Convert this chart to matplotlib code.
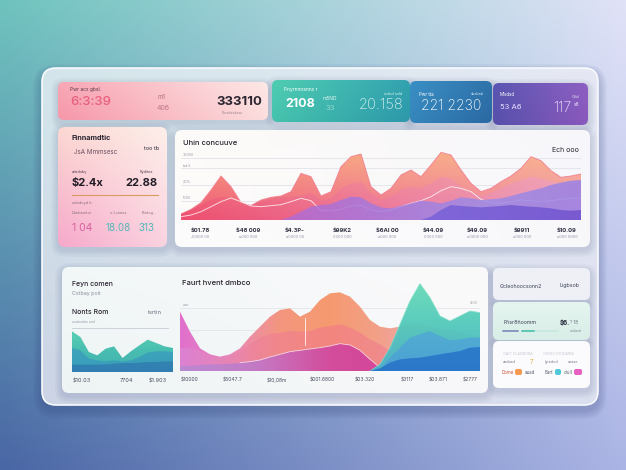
import numpy as np
import matplotlib
matplotlib.use('Agg')
import matplotlib.pyplot as plt
from matplotlib.patches import FancyBboxPatch
from matplotlib.colors import to_rgb

plt.rcParams['font.family'] = ['Inter', 'DejaVu Sans']

W, H = 626, 470

# ---------------- data ----------------
top_peaks = [18, 32, 52, 90, 132, 100, 53, 43, 60, 68, 72, 85, 140, 130, 72, 85, 160, 190, 198, 100,
             75, 95, 135, 150, 130, 165, 203, 195, 150, 110, 85, 95, 115, 132, 155, 190, 178, 148, 128, 132, 138]
top_mid = [18, 30, 45, 60, 70, 65, 50, 45, 55, 62, 68, 70, 72, 80, 60, 65, 95, 110, 115, 80,
           60, 70, 90, 100, 95, 110, 130, 125, 100, 85, 70, 80, 95, 110, 120, 130, 125, 115, 110, 115, 118]
top_line = [10, 15, 25, 40, 55, 66, 55, 42, 40, 43, 46, 55, 65, 58, 28, 28, 32, 42, 44, 30,
            25, 30, 40, 50, 58, 70, 88, 100, 95, 85, 62, 52, 50, 55, 60, 58, 55, 58, 62, 65, 65]
top_purple = [0, 0, 0, 0, 0, 0, 0, 0, 0, 0, 0, 10, 25, 40, 45, 48, 60, 70, 68, 50,
              38, 35, 42, 50, 58, 55, 50, 58, 68, 65, 60, 62, 65, 72, 80, 88, 95, 105, 112, 118, 120]
top_deep = [0] * 25 + [10, 30, 45, 42, 40, 38, 40, 42, 45, 42, 40, 38, 35, 30, 28, 30]
top_grid = [187, 155, 105, 57]
top_grid_labels = ['30000', 'tsd.5', '20%', '1000']
top_labels = ['$01.78', '$48 009', '$4.3P-', '$99K2', '$6AI 00', '$44.09', '$49.09', '$9911', '$10.09']
top_sublabels = ['J0000 00', 'u000 000', 'a0000 00', '0000 000', 'a000 000', '0000 000',
                 'u0000 000', 'u000 000', 'u000 0000']

bot_top = [178, 118, 68, 50, 43, 50, 68, 103, 133, 163, 183, 188, 163, 178, 213, 233, 236, 223, 193, 153,
           133, 128, 133, 143, 143, 133, 128, 123, 118, 108, 103]
bot_mid = [70, 70, 60, 45, 40, 45, 60, 80, 100, 110, 115, 120, 118, 120, 130, 135, 140, 130, 115, 95,
           80, 60, 40, 20, 0, 0, 0, 0, 0, 0, 0]
bot_magenta = [15, 15, 18, 20, 20, 22, 25, 28, 33, 42, 50, 58, 62, 66, 70, 75, 82, 78, 62, 35,
               10, 0, 0, 0, 0, 0, 0, 0, 0, 0, 0]
bot_teal = [0] * 19 + [0, 20, 70, 140, 210, 262, 220, 165, 150, 165, 180, 175]
bot_teal_mid = [0] * 20 + [5, 40, 70, 100, 110, 120, 105, 92, 95, 100, 100]
bot_blue = [0] * 20 + [8, 25, 35, 38, 40, 45, 50, 55, 60, 70, 72]
bot_grid = [190, 123]
bot_labels = ['$10000', '$5047.7', '$10,08m', '$001.6800', '$03.320', '$3117', '$03.871', '$2777']

sm_teal = [122, 105, 60, 50, 70, 77, 42, 62, 80, 97, 87, 77, 72]
sm_blue = [72, 65, 40, 35, 32, 35, 32, 35, 45, 58, 62, 62, 60]
sm_deep = [22, 22, 22, 22, 23, 25, 27, 27, 28, 30, 30, 32, 32]
sm_labels = ['$10.03', '7704', '$1.903']

# ---------------- helpers ----------------
def rgb(c):
    return np.array(to_rgb(c))


def bilinear(tl, tr, bl, br, n=64, m=64):
    t = np.linspace(0, 1, m)[None, :, None]
    s = np.linspace(0, 1, n)[:, None, None]
    top = rgb(tl) * (1 - t) + rgb(tr) * t
    bot = rgb(bl) * (1 - t) + rgb(br) * t
    return np.clip(top * (1 - s) + bot * s, 0, 1)


def stops_interp(stops, n):
    cols = np.array([rgb(c) for c in stops])
    p = np.linspace(0, 1, len(stops))
    q = np.linspace(0, 1, n)
    return np.stack([np.interp(q, p, cols[:, k]) for k in range(3)], axis=-1)


def hgrad(stops, m=128):
    row = stops_interp(stops, m)
    return np.repeat(row[None, :, :], 2, axis=0)


def vgrad(stops, n=128):
    col = stops_interp(stops, n)
    return np.repeat(col[:, None, :], 2, axis=1)


fig = plt.figure(figsize=(W / 100, H / 100), dpi=100)
bg = fig.add_axes([0, 0, 1, 1])
bg.set_xlim(0, W)
bg.set_ylim(H, 0)
bg.set_autoscale_on(False)
bg.axis('off')

bg.imshow(bilinear('#6fc3be', '#e0e2f7', '#4a67a5', '#abb5e5'), extent=(0, W, H, 0),
          aspect='auto', interpolation='bilinear', zorder=0)


def shadow(x, y, w, h, r, dy=3, alpha=0.035, layers=4, z=1):
    for k in range(layers):
        p = 1.5 + 1.8 * k
        bg.add_patch(FancyBboxPatch((x - p, y - p + dy), w + 2 * p, h + 2 * p,
                                    boxstyle=f"round,pad=0,rounding_size={r + p}",
                                    fc='#2a3a70', ec='none', alpha=alpha, zorder=z))


def card(x, y, w, h, r, fill, alpha=1.0, ec='none', lw=0, z=3, sh=True, sh_alpha=0.035):
    if sh:
        shadow(x, y, w, h, r, alpha=sh_alpha, z=z - 0.5)
    if isinstance(fill, str):
        p = FancyBboxPatch((x, y), w, h, boxstyle=f"round,pad=0,rounding_size={r}",
                           fc=fill, ec=ec, lw=lw, alpha=alpha, zorder=z)
        bg.add_patch(p)
    else:
        p = FancyBboxPatch((x, y), w, h, boxstyle=f"round,pad=0,rounding_size={r}",
                           fc='none', ec=ec, lw=lw, zorder=z + 0.1)
        bg.add_patch(p)
        im = bg.imshow(fill, extent=(x, x + w, y + h, y), aspect='auto',
                       interpolation='bilinear', alpha=alpha, zorder=z)
        im.set_clip_path(p)
    return p


def T(x, y, s, size, color, weight='normal', ha='left', va='center', alpha=1.0):
    bg.text(x, y, s, fontsize=size, color=color, fontweight=weight, ha=ha, va=va,
            alpha=alpha, zorder=8)


def chart_axes(x0, y0, x1, y1):
    a = fig.add_axes([x0 / W, 1 - y1 / H, (x1 - x0) / W, (y1 - y0) / H])
    a.set_facecolor('none')
    a.axis('off')
    return a


def grad_fill(ax, x, y, img, alpha=1.0, z=2, lower=None):
    x = np.asarray(x, float)
    y = np.asarray(y, float)
    lo = np.zeros_like(y) if lower is None else np.asarray(lower, float)
    poly = ax.fill_between(x, lo, y, facecolor='none', edgecolor='none', zorder=z)
    y0, y1 = ax.get_ylim()
    im = ax.imshow(img, extent=(x[0], x[-1], y0, y1), aspect='auto', origin='upper',
                   interpolation='bilinear', alpha=alpha, zorder=z)
    im.set_clip_path(poly.get_paths()[0], transform=ax.transData)
    return poly


# ---------------- main panel ----------------
shadow(42, 68, 556, 337, 14, dy=5, alpha=0.05, layers=5, z=1)
card(42, 68, 556, 337, 14, bilinear('#e2f0f3', '#edeff8', '#dce1ee', '#e5e8f4'), alpha=0.9,
     ec='#f8fafd', lw=1.2, z=2, sh=False)

# ---------------- top KPI cards ----------------
card(58, 82, 210, 38, 6, bilinear('#f8a8b6', '#fde8e6', '#f697aa', '#fcdcdc'))
T(70, 89, 'Pwr acx gbsl.', 3.5, '#5a3a48')
T(70, 102, '6:3:39', 9.5, '#e8607e', weight='medium')
T(157, 97, 'm1', 4.5, '#b07080')
T(157, 108, '406', 5, '#c07888')
T(216, 102, '333110', 9.5, '#2b2630', weight='bold')
T(222, 113, 'Pmsdasdasa', 2.5, '#a08890')

card(272, 80, 138, 42, 6, bilinear('#4fcdb2', '#33a3b0', '#45c2ad', '#2d98aa'))
T(284, 90, 'Pnyrnnnsnnx r', 3.5, 'white')
T(285, 104, '2108', 9, 'white', weight='bold')
T(323, 99, 'm5ND', 3.5, '#e0f6f2')
T(325, 108, '33', 5.5, '#8fd8cc')
T(402, 94, 'sdsd sdd', 3, '#d0f0ee', ha='right')
T(403, 105, '20.158', 10.5, '#d8f2f2', weight='light', ha='right')

card(410, 81, 82, 42, 6, bilinear('#3a8fc4', '#2f74ab', '#3585bb', '#2b69a3'))
T(419, 94, 'Pwr tta', 3.2, 'white')
T(484, 94, 'sbsbsb', 2.8, '#cfe0f0', ha='right')
T(421, 106, '221 2230', 10, 'white', weight='light')

card(493, 83, 95, 42, 6, bilinear('#5b56b2', '#8d5fc2', '#5650aa', '#8a58bc'))
T(500, 95, 'Mlsdsd', 3.2, 'white')
T(580, 97, 'Ctbl', 3, '#e2dcf2', ha='right')
T(500, 107, '53 A6', 5.5, '#e8e0ff')
T(553, 108, '117', 10, '#ece2fc', weight='light')
T(574, 104, 's8', 3.5, '#ece2fc')

# ---------------- left middle card ----------------
card(58, 127, 109, 120, 7, bilinear('#fcd8d2', '#fdefea', '#f6a9cb', '#fbd3e0'))
T(72, 138, 'Finnamdtic', 5.2, '#2a2530', weight='bold')
T(74, 152, 'JsA Mmmsesc', 4.5, '#6a5060')
T(144, 148, 'too tb', 4, '#2a2530')
T(72, 172, 'adsdsby', 2.8, '#5a4550')
T(140, 172, 'Rydites', 2.8, '#5a4550')
T(72, 183, '$2.4x', 8, '#231e28', weight='bold')
T(125, 183, '22.88', 8, '#231e28', weight='bold')
bg.plot([72, 158], [195, 195], color='#d99c5c', lw=0.8, zorder=8)
T(72, 203, 'adodoyd b', 2.8, '#8a7080')
T(72, 213, 'Datatsertor', 2.8, '#8a7080')
T(110, 213, 'o Lciwos', 2.8, '#8a7080')
T(142, 213, 'Betog ..', 2.8, '#8a7080')
T(72, 228, '1 04', 7.5, '#d860a0')
T(105, 228, '18.08', 7, '#52b8b8')
T(138, 228, '313', 7, '#52b8b8')

# ---------------- top chart card ----------------
card(175, 130, 415, 117, 7, bilinear('#fdfbf8', '#f7f6fa', '#fdfcfc', '#f8f8fb'))
T(183, 143, 'Uhin concuuve', 5.5, '#2a2530', weight='medium')
T(579, 150, 'Ech ooo', 5, '#2a2530', ha='right')
for xx, s1, s2 in zip([200, 248, 295, 342, 387, 433, 477, 522, 567], top_labels, top_sublabels):
    T(xx, 230, s1, 4.2, '#2e3040', weight='bold', ha='center')
    T(xx, 237, s2, 2.8, '#8a8fa0', ha='center')

ax1 = chart_axes(181, 150, 581, 220)
tx = np.arange(len(top_peaks))
ax1.set_xlim(0, tx[-1])
ax1.set_ylim(0, 210)
ax1.set_autoscale_on(False)
for g, lab in zip(top_grid, top_grid_labels):
    ax1.axhline(g, color='#e4e2ea', lw=0.6, zorder=0)
    ax1.text(0.2, g + 5, lab, fontsize=2.6, color='#9a9aa8', zorder=0)
grad_fill(ax1, tx, top_peaks, bilinear('#f7a07c', '#f9b690', '#ee5474', '#f090b0'), z=2)
ax1.plot(tx, top_peaks, color='#f07a8c', lw=0.7, alpha=0.8, zorder=2.1)
grad_fill(ax1, tx, top_mid, bilinear('#f27088', '#f4a6c6', '#ee4a6c', '#e2a2da'), alpha=0.55, z=3)
ax1.plot(tx, top_line, color='white', lw=0.7, alpha=0.75, zorder=3.5)
grad_fill(ax1, tx, top_purple, hgrad(['#c268cc', '#b46ad2', '#a47ade', '#9c8ce8', '#9a82e4']), alpha=0.85, z=4)
grad_fill(ax1, tx, top_deep, hgrad(['#7e72e4', '#7462dc', '#6a4ccc']), alpha=0.75, z=5)

# ---------------- bottom large card ----------------
card(62, 267, 426, 126, 7, bilinear('#f2f7f8', '#fbfafb', '#eef4f4', '#f8f8fa'))
T(72, 284, 'Feyn comen', 5, '#2a2530', weight='medium')
T(72, 294, 'Cstbay poit', 3.8, '#8a8fa0')
T(72, 312, 'Nonts Rom', 5, '#2a2530', weight='medium')
T(148, 312, 'tsrtin', 4.2, '#6a6f80')
T(72, 322, 'asdasdas asd', 2.6, '#a0a5b0')
bg.plot([72, 168], [328, 328], color='#c8ccd6', lw=0.6, zorder=8)
for xx, s in zip([82, 126, 158], sm_labels):
    T(xx, 381, s, 4, '#4a4f60', ha='center')
T(182, 283, 'Faurt hvent dmbco', 5.5, '#2a2530', weight='medium')
for xx, s in zip([190, 233, 277, 322, 365, 407, 438, 470], bot_labels):
    T(xx, 380, s, 3.6, '#4a4f60', ha='center')

# small teal chart
ax3 = chart_axes(72, 330, 173, 372)
sx = np.arange(len(sm_teal))
ax3.set_xlim(0, sx[-1])
ax3.set_ylim(0, 126)
ax3.set_autoscale_on(False)
grad_fill(ax3, sx, sm_teal, vgrad(['#5cd3b4', '#48bdb0', '#42b0b0']), z=2)
grad_fill(ax3, sx, sm_blue, vgrad(['#3ea8c0', '#3898bc']), alpha=0.85, z=3)
grad_fill(ax3, sx, sm_deep, vgrad(['#3488b4', '#307ab0']), alpha=0.85, z=4)

# big bottom chart
ax2 = chart_axes(180, 283, 480, 371)
bx = np.arange(len(bot_top))
ax2.set_xlim(0, bx[-1])
ax2.set_ylim(0, 264)
ax2.set_autoscale_on(False)
for g in bot_grid:
    ax2.axhline(g, color='#e4e4ec', lw=0.6, zorder=0)
ax2.text(0.3, bot_grid[0] + 6, 'aaa', fontsize=2.6, color='#9a9aa8')
ax2.text(bx[-1] - 0.2, bot_grid[0] + 12, '4.00', fontsize=2.6, color='#9a9aa8', ha='right')
grad_fill(ax2, bx, bot_top, hgrad(['#e070cc', '#e888bc', '#f3967e', '#f69a70', '#f2a08a',
                                   '#eca8b8', '#e8b4cc']), z=2)
grad_fill(ax2, bx, bot_mid, hgrad(['#da8cd8', '#ee8098', '#f27888', '#ef8090', '#ee90a0']), alpha=0.6, z=3)
grad_fill(ax2, bx, bot_magenta, hgrad(['#b88ad2', '#c27ac8', '#d24a9e', '#d4409a', '#cf3e98']), alpha=0.95, z=4)
ax2.plot(bx[6:21], bot_magenta[6:21], color='white', lw=0.6, alpha=0.7, zorder=4.2)
ax2.axvline(12.5, ymin=0.3, ymax=0.6, color='white', lw=0.7, alpha=0.8, zorder=3.5)
grad_fill(ax2, bx, bot_teal, vgrad(['#66dab6', '#52c8bc', '#46b2cc']), alpha=0.95, z=5)
ax2.plot(bx[19:], bot_teal[19:], color='#7fe0c8', lw=0.6, alpha=0.8, zorder=5.1)
grad_fill(ax2, bx, bot_teal_mid, vgrad(['#56aee0', '#4a9ad8']), alpha=0.7, z=6)
grad_fill(ax2, bx, bot_blue, vgrad(['#2e86d4', '#2a76c8']), alpha=0.95, z=7)

# ---------------- right small cards ----------------
card(493, 268, 97, 32, 6, '#eff0f6')
T(500, 286, 'Gcleohoocsonn2', 3.8, '#3a3f55')
T(580, 286, 'Ligbsob', 3.8, '#3a3f55', ha='right')

card(493, 302, 97, 38, 6, vgrad(['#e6f5f0', '#d8eee7']))
T(503, 322, 'Fñsr8ñoomm', 3.8, '#3a3f55')
T(560, 322, '$6.', 4.5, '#2a2e40', weight='bold')
T(570, 322, '? 18', 3.2, '#6a6f80')
bg.plot([503, 518], [331, 331], color='#8898c0', lw=1.4, solid_capstyle='round', zorder=8)
bg.plot([522, 558], [331, 331], color='#c8e8e0', lw=1.4, solid_capstyle='round', zorder=8)
bg.plot([522, 534], [331, 331], color='#5cc8b0', lw=1.4, solid_capstyle='round', zorder=8.1)
T(570, 331, 'asdasd', 2.6, '#8a8fa0')

card(493, 341, 97, 47, 6, '#fbfbfd')
T(503, 354, 'OAIT CLANDDRA', 2.6, '#c4c8d2')
T(543, 354, 'GNDDI SYDDMRA', 2.6, '#c4c8d2')
T(503, 362, 'asdasd', 2.8, '#7a7f90')
T(530, 362, '7', 4.5, '#e0b040')
T(545, 362, 'lgrsdod', 2.8, '#7a7f90')
T(568, 362, 'sesse', 2.8, '#7a7f90')
bg.add_patch(FancyBboxPatch((515, 369), 7, 6, boxstyle='round,pad=0,rounding_size=2',
                            fc='#f59a50', ec='none', zorder=7))
T(502, 372, 'Dome', 3.2, '#d05030')
T(525, 372, 'auad', 3.2, '#5a5f70')
bg.add_patch(FancyBboxPatch((555, 369), 6, 6, boxstyle='round,pad=0,rounding_size=2',
                            fc='#50c8d8', ec='none', zorder=7))
T(545, 372, 'Bart', 3.2, '#5a5f70')
bg.add_patch(FancyBboxPatch((574, 369), 8, 6, boxstyle='round,pad=0,rounding_size=2',
                            fc='#e860c0', ec='none', zorder=7))
T(564, 372, 'dlull', 3.2, '#5a5f70')

fig.savefig('out.png', dpi=100)
